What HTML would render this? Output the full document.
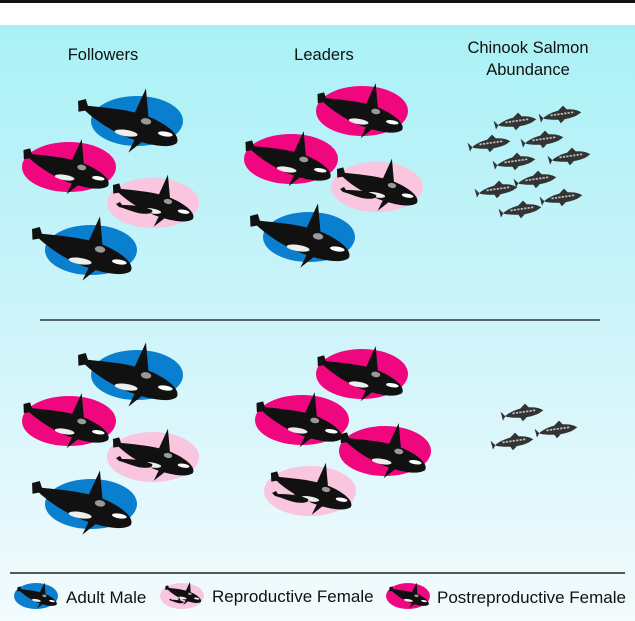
<!DOCTYPE html>
<html><head><meta charset="utf-8"><style>
html,body{margin:0;padding:0;background:#fff}
svg{display:block}
text{font-family:"Liberation Sans",sans-serif;fill:#111}
</style></head><body>
<svg width="635" height="621" viewBox="0 0 635 621" xmlns="http://www.w3.org/2000/svg">
<defs>
<linearGradient id="bg" x1="0" y1="0" x2="0" y2="1">
<stop offset="0" stop-color="#a9f1f6"/>
<stop offset="0.5" stop-color="#cdf4fa"/>
<stop offset="1" stop-color="#f3fbfd"/>
</linearGradient>
<g id="orca">
<path d="M-52,-12 L-45,-15 L-42,-9 C-20,-10 0,-12 20,-7 C38,-2 50,6 47,13 C40,20 20,19 0,15 C-20,10 -35,2 -44,-4 L-50,-2 Z" fill="#111"/>
<path d="M3,-9 L10,-34 L17,-6 Z" fill="#111"/>
<path d="M8,13 L3,29 L16,15 Z" fill="#111"/>
<ellipse cx="35" cy="6" rx="7" ry="2.3" fill="#fff"/>
<ellipse cx="-2" cy="11" rx="11" ry="3" fill="#eee"/>
<ellipse cx="15" cy="-3" rx="5" ry="3" fill="#999"/>
</g>
<g id="calf">
<path d="M-22,-4 L-18,-6 L-16,-3 C-6,-3 6,-2 14,2 C16,5 10,7 0,5 C-8,3 -14,0 -19,-1 Z" fill="#111"/>
<path d="M0,-2 L3,-10 L6,-1 Z" fill="#111"/>
</g>
<g id="fish">
<path d="M-16,0 C-8,-5 6,-6 14,-2 L17,0 L13,2 C5,5 -8,4 -16,1 L-20,-4 L-19,4 Z" fill="#333"/>
<path d="M-3,-4 L2,-8 L5,-4 Z M-4,3 L-2,7 L2,4 Z" fill="#333"/>
<path d="M-10,-1 H10" stroke="#bbb" stroke-width="1.5" stroke-dasharray="2 1"/>
</g>
</defs>
<rect x="0" y="0" width="635" height="621" fill="#fff"/>
<rect x="0" y="0" width="635" height="3" fill="#111"/>
<rect x="0" y="25" width="635" height="596" fill="url(#bg)"/>
<text x="103" y="60" font-size="16.5" text-anchor="middle">Followers</text>
<text x="324" y="60" font-size="16.5" text-anchor="middle">Leaders</text>
<text x="528" y="53" font-size="16.5" text-anchor="middle">Chinook Salmon</text>
<text x="528" y="75" font-size="16.5" text-anchor="middle">Abundance</text>
<!-- top followers -->
<ellipse cx="137" cy="121" rx="46" ry="25" fill="#0a7fd0"/><use href="#orca" transform="translate(130,122) rotate(9) scale(1.05)"/>
<ellipse cx="69" cy="167" rx="47" ry="25" fill="#f0077f"/><use href="#orca" transform="translate(68,168) rotate(9) scale(0.9)"/>
<ellipse cx="153" cy="203" rx="46" ry="25" fill="#f9c5df"/><use href="#orca" transform="translate(155,202) rotate(9) scale(0.85)"/><use href="#calf" transform="translate(138,208)"/>
<ellipse cx="91" cy="250" rx="46" ry="25" fill="#0a7fd0"/><use href="#orca" transform="translate(84,250) rotate(9) scale(1.05)"/>
<!-- top leaders -->
<ellipse cx="362" cy="111" rx="46" ry="25" fill="#f0077f"/><use href="#orca" transform="translate(362,112) rotate(9) scale(0.9)"/>
<ellipse cx="291" cy="159" rx="47" ry="25" fill="#f0077f"/><use href="#orca" transform="translate(290,160) rotate(9) scale(0.9)"/>
<ellipse cx="377" cy="187" rx="46" ry="25" fill="#f9c5df"/><use href="#orca" transform="translate(379,186) rotate(9) scale(0.85)"/><use href="#calf" transform="translate(362,193)"/>
<ellipse cx="309" cy="237" rx="46" ry="25" fill="#0a7fd0"/><use href="#orca" transform="translate(302,237) rotate(9) scale(1.05)"/>
<!-- top fish -->
<g transform="translate(0,0)">
<use href="#fish" transform="translate(517,122) rotate(-8) scale(1.15)"/><use href="#fish" transform="translate(562,115) rotate(-8) scale(1.15)"/>
<use href="#fish" transform="translate(491,144) rotate(-8) scale(1.15)"/><use href="#fish" transform="translate(544,140) rotate(-8) scale(1.15)"/>
<use href="#fish" transform="translate(516,162) rotate(-8) scale(1.15)"/><use href="#fish" transform="translate(571,157) rotate(-8) scale(1.15)"/>
<use href="#fish" transform="translate(537,180) rotate(-8) scale(1.15)"/><use href="#fish" transform="translate(498,190) rotate(-8) scale(1.15)"/>
<use href="#fish" transform="translate(563,198) rotate(-8) scale(1.15)"/><use href="#fish" transform="translate(522,210) rotate(-8) scale(1.15)"/>
</g>
<line x1="40" y1="320" x2="600" y2="320" stroke="#333" stroke-width="1.5"/>
<!-- bottom followers -->
<ellipse cx="137" cy="375" rx="46" ry="25" fill="#0a7fd0"/><use href="#orca" transform="translate(130,376) rotate(9) scale(1.05)"/>
<ellipse cx="69" cy="421" rx="47" ry="25" fill="#f0077f"/><use href="#orca" transform="translate(68,422) rotate(9) scale(0.9)"/>
<ellipse cx="153" cy="457" rx="46" ry="25" fill="#f9c5df"/><use href="#orca" transform="translate(155,456) rotate(9) scale(0.85)"/><use href="#calf" transform="translate(138,462)"/>
<ellipse cx="91" cy="504" rx="46" ry="25" fill="#0a7fd0"/><use href="#orca" transform="translate(84,504) rotate(9) scale(1.05)"/>
<!-- bottom leaders -->
<ellipse cx="362" cy="374" rx="46" ry="25" fill="#f0077f"/><use href="#orca" transform="translate(362,375) rotate(9) scale(0.9)"/>
<ellipse cx="302" cy="420" rx="47" ry="25" fill="#f0077f"/><use href="#orca" transform="translate(301,421) rotate(9) scale(0.9)"/>
<ellipse cx="385" cy="451" rx="46" ry="25" fill="#f0077f"/><use href="#orca" transform="translate(385,452) rotate(9) scale(0.9)"/>
<ellipse cx="310" cy="491" rx="46" ry="25" fill="#f9c5df"/><use href="#orca" transform="translate(313,490) rotate(9) scale(0.85)"/><use href="#calf" transform="translate(294,497)"/>
<!-- bottom fish -->
<use href="#fish" transform="translate(524,413) rotate(-8) scale(1.15)"/><use href="#fish" transform="translate(558,430) rotate(-8) scale(1.15)"/><use href="#fish" transform="translate(514,442) rotate(-8) scale(1.15)"/>
<line x1="10" y1="573" x2="625" y2="573" stroke="#222" stroke-width="1.5"/>
<!-- legend -->
<ellipse cx="36" cy="596" rx="22" ry="13" fill="#0a7fd0"/><use href="#orca" transform="translate(38,596) rotate(10) scale(0.42)"/>
<text x="66" y="603" font-size="17">Adult Male</text>
<ellipse cx="182" cy="596" rx="22" ry="13" fill="#f9c5df"/><use href="#orca" transform="translate(184,594) rotate(10) scale(0.38)"/><use href="#calf" transform="translate(178,601) scale(0.4)"/>
<text x="212" y="602" font-size="17">Reproductive Female</text>
<ellipse cx="408" cy="596" rx="22" ry="13" fill="#f0077f"/><use href="#orca" transform="translate(410,596) rotate(10) scale(0.42)"/>
<text x="437" y="603" font-size="17">Postreproductive Female</text>
</svg>
</body></html>
